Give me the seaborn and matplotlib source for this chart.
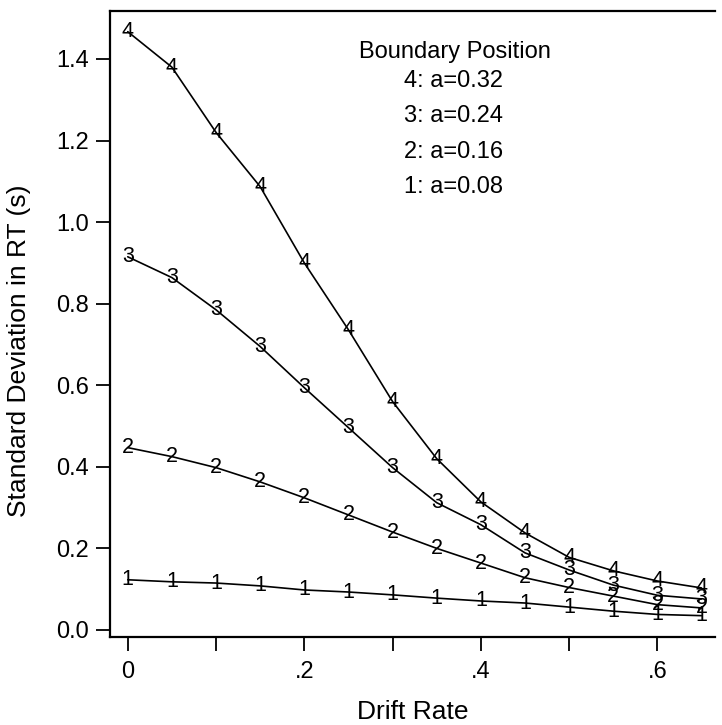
import matplotlib
matplotlib.use("Agg")
import matplotlib.pyplot as plt
import seaborn as sns
import pandas as pd

# Drift rates (x) and RT standard deviations for four boundary positions
drift = [0.00, 0.05, 0.10, 0.15, 0.20, 0.25, 0.30, 0.35, 0.40, 0.45, 0.50, 0.55, 0.60, 0.65]
sd_a032 = [1.467, 1.38, 1.22, 1.087, 0.90, 0.736, 0.56, 0.42, 0.314, 0.238, 0.178, 0.145, 0.12, 0.103]
sd_a024 = [0.915, 0.864, 0.785, 0.695, 0.594, 0.496, 0.398, 0.312, 0.258, 0.189, 0.147, 0.11, 0.085, 0.076]
sd_a016 = [0.447, 0.425, 0.398, 0.363, 0.324, 0.282, 0.24, 0.20, 0.164, 0.128, 0.104, 0.083, 0.062, 0.054]
sd_a008 = [0.123, 0.118, 0.115, 0.108, 0.098, 0.093, 0.086, 0.078, 0.071, 0.066, 0.056, 0.046, 0.038, 0.035]

series_ids = ["4", "3", "2", "1"]
series_sd = [sd_a032, sd_a024, sd_a016, sd_a008]
legend_title = "Boundary Position"
legend_lines = ["4: a=0.32", "3: a=0.24", "2: a=0.16", "1: a=0.08"]

x_ticks = [0.0, 0.1, 0.2, 0.3, 0.4, 0.5, 0.6]
x_ticklabels = ["0", "", ".2", "", ".4", "", ".6"]
y_ticks = [0.0, 0.2, 0.4, 0.6, 0.8, 1.0, 1.2, 1.4]
y_ticklabels = ["0.0", "0.2", "0.4", "0.6", "0.8", "1.0", "1.2", "1.4"]

sns.set_theme(style="ticks")
plt.rcParams["font.family"] = ["Liberation Sans", "DejaVu Sans"]
plt.rcParams["text.color"] = "black"
plt.rcParams["axes.labelcolor"] = "black"

frames = []
for sid, vals in zip(series_ids, series_sd):
    frames.append(pd.DataFrame({"drift": drift, "sd": vals, "pos": sid}))
df = pd.concat(frames, ignore_index=True)

fig = plt.figure(figsize=(7.22, 7.25), dpi=100)
ax = fig.add_axes([0.152, 0.121, 0.838, 0.864])

sns.lineplot(data=df, x="drift", y="sd", hue="pos", units="pos", estimator=None,
             palette={s: "black" for s in series_ids}, linewidth=1.2,
             legend=False, ax=ax, sort=False)

# digit markers at each data point
for sid, vals in zip(series_ids, series_sd):
    for xv, yv in zip(drift, vals):
        ax.text(xv, yv, sid, ha="center", va="center", fontsize=15.5, color="black")

ax.set_xlim(-0.0204, 0.665)
ax.set_ylim(-0.018, 1.518)
ax.set_xticks(x_ticks)
ax.set_xticklabels(x_ticklabels)
ax.set_yticks(y_ticks)
ax.set_yticklabels(y_ticklabels)
ax.tick_params(axis="both", direction="out", length=10, width=1.3, labelsize=17,
               color="black", labelcolor="black")
ax.tick_params(axis="x", pad=7)
ax.tick_params(axis="y", pad=5)

for side in ["left", "top", "bottom"]:
    ax.spines[side].set_linewidth(1.6)
    ax.spines[side].set_color("black")
ax.spines["right"].set_visible(False)

ax.set_xlabel("Drift Rate", fontsize=19, color="black")
ax.set_ylabel("Standard Deviation in RT (s)", fontsize=19, color="black")
ax.yaxis.set_label_coords(-0.13, 0.458)
ax.xaxis.set_label_coords(0.5, -0.1)

# legend block describing boundary positions
ax.text(0.371, 1.418, legend_title, ha="center", va="center", fontsize=17, color="black")
legend_y = [1.345, 1.259, 1.173, 1.087]
for txt, yv in zip(legend_lines, legend_y):
    ax.text(0.313, yv, txt, ha="left", va="center", fontsize=17, color="black")

fig.savefig("out.png", dpi=100)
